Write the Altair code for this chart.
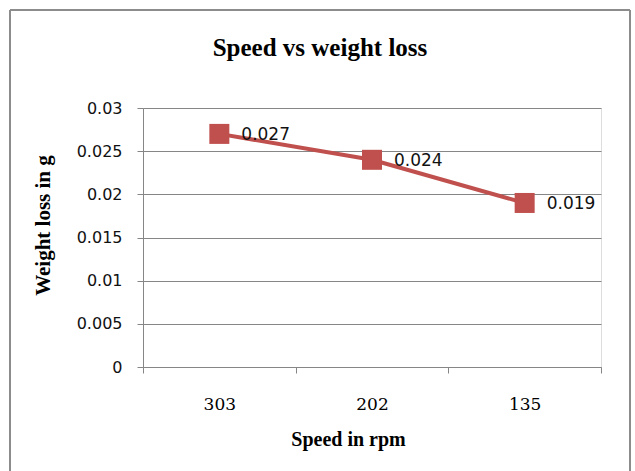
import altair as alt
import pandas as pd

speeds = ["303", "202", "135"]
weight_loss = [0.027, 0.024, 0.019]
labels = ["0.027", "0.024", "0.019"]
y_ticks = [0, 0.005, 0.01, 0.015, 0.02, 0.025, 0.03]
chart_title = "Speed vs weight loss"

df = pd.DataFrame({"speed": speeds, "loss": weight_loss, "label": labels})
title_df = pd.DataFrame({"t": [chart_title]})

RED = "#C0504D"
GRID = "#868686"

x_enc = alt.X(
    "speed:N",
    sort=speeds,
    scale=alt.Scale(type="band", paddingInner=0, paddingOuter=0),
    axis=alt.Axis(
        title="Speed in rpm",
        titleFont="Liberation Serif",
        titleFontSize=20,
        titleFontWeight="bold",
        titleColor="black",
        titleX=205,
        titleY=62,
        titleBaseline="top",
        labelAngle=0,
        labelFont="DejaVu Serif",
        labelFontSize=17,
        labelColor="black",
        labelPadding=23,
        tickBand="extent",
        tickSize=6,
        tickColor=GRID,
        domainColor=GRID,
        grid=False,
    ),
)
y_enc = alt.Y(
    "loss:Q",
    scale=alt.Scale(domain=[0, 0.03], nice=False, zero=True),
    axis=alt.Axis(
        title="Weight loss in g",
        titleFont="Liberation Serif",
        titleFontSize=21,
        titleFontWeight="bold",
        titleColor="black",
        titleX=-90,
        titleY=117,
        values=y_ticks,
        format="~g",
        labelFont="DejaVu Sans",
        labelFontSize=16,
        labelColor="#111111",
        labelPadding=15,
        tickSize=6,
        tickColor=GRID,
        domainColor=GRID,
        gridColor=GRID,
        gridWidth=1,
    ),
)

base = alt.Chart(df)
line = base.mark_line(color=RED, strokeWidth=4).encode(x=x_enc, y=y_enc)
pts = base.mark_point(shape="square", filled=True, color=RED, size=400, opacity=1).encode(
    x=alt.X("speed:N", sort=speeds), y="loss:Q"
)
txt = base.mark_text(align="left", baseline="middle", dx=22, dy=1, font="DejaVu Sans", fontSize=17, color="#111111").encode(
    x=alt.X("speed:N", sort=speeds), y="loss:Q", text="label:N"
)

title_txt = alt.Chart(title_df).mark_text(
    font="Liberation Serif", fontSize=25, fontWeight="bold", color="black",
    align="center", baseline="middle",
).encode(x=alt.value(177), y=alt.value(-60), text="t:N")

border_color = "#8c8c8c"
left_b = alt.Chart(title_df).mark_rule(color=border_color, strokeWidth=2).encode(
    x=alt.value(-133), y=alt.value(-98), y2=alt.value(363)
)
top_b = alt.Chart(title_df).mark_rule(color=border_color, strokeWidth=2).encode(
    x=alt.value(-133), x2=alt.value(487), y=alt.value(-98)
)
right_b = alt.Chart(title_df).mark_rule(color=border_color, strokeWidth=2).encode(
    x=alt.value(487), y=alt.value(-98), y2=alt.value(363)
)

chart = (
    alt.layer(line, pts, txt, title_txt, left_b, top_b, right_b)
    .properties(
        width=458,
        height=259,
        autosize=alt.AutoSizeParams(type="none"),
        padding={"left": 143, "top": 108, "right": 34, "bottom": 104},
    )
    .configure_view(stroke=None)
    .configure(background="white")
)

chart.save("out.html", embed_options={"renderer": "svg", "actions": False})
